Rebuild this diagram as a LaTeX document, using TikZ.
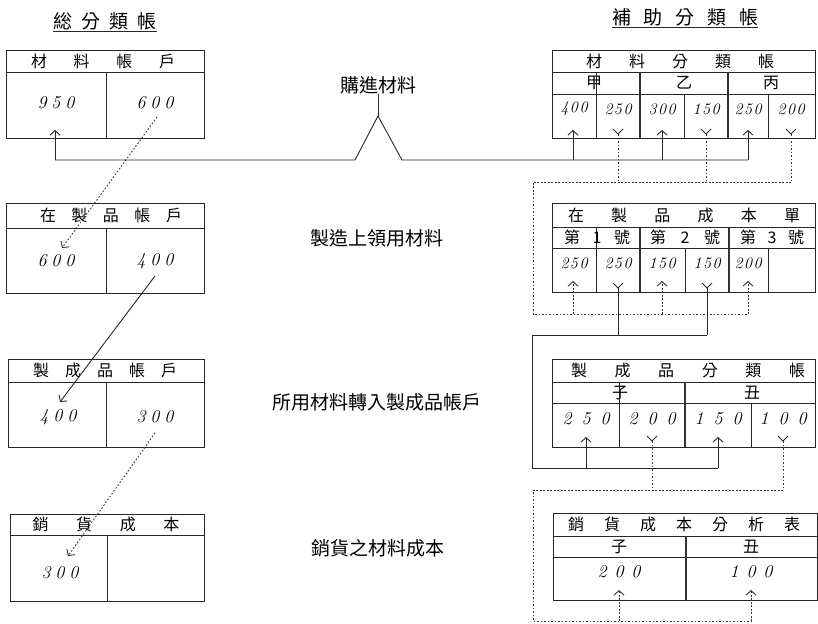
\documentclass[tikz,border=0pt]{standalone}
\usepackage{fontspec}
\newfontfamily\cjk{Noto Sans CJK TC}
\usetikzlibrary{arrows.meta}
\newcommand\threed[4]{#2\kern#1#3\kern#1#4}
\newcommand\spreadtxt[2]{\makebox[#1][s]{#2}}
\tikzset{
  ln/.style={line width=0.9pt, draw=black!85},
  thk/.style={line width=1.9pt, draw=black!80},
  dotl/.style={line width=0.9pt, draw=black!80, dash pattern=on 1.6pt off 1.9pt},
  upar/.style={-{Straight Barb[length=4.5pt,width=10pt,line width=0.9pt]}},
  ttl/.style={font=\cjk\fontsize{19}{19}\selectfont, inner sep=0pt, text=black},
  hdr/.style={font=\cjk\fontsize{16}{16}\selectfont, inner sep=0pt, text=black},
  lbl/.style={font=\cjk\fontsize{19}{19}\selectfont, inner sep=0pt, text=black},
  val/.style={font=\itshape\fontsize{18}{18}\selectfont, inner sep=0pt, text=black},
  sval/.style={font=\itshape\fontsize{16}{16}\selectfont, inner sep=0pt, text=black},
}
\begin{document}
\begin{tikzpicture}[x=1pt,y=-1pt]
\useasboundingbox (0,0) rectangle (818,623);

% ---------- titles ----------
\node[ttl] (t1) at (105,21) {\spreadtxt{104pt}{総\hfill 分\hfill 類\hfill 帳}};
\draw[ln] (53,31) -- (157,31);
\node[ttl] (t2) at (685,17) {\spreadtxt{146pt}{補\hfill 助\hfill 分\hfill 類\hfill 帳}};
\draw[ln] (612,27) -- (758,27);

% ---------- left column boxes ----------
\draw[ln] (6,50) rectangle (204,138); \draw[ln] (6,72) -- (204,72); \draw[ln] (106,72) -- (106,138);
\node[hdr] (l1h) at (103,61) {\spreadtxt{144pt}{材\hfill 料\hfill 帳\hfill 戶}};
\node[val] (l1a) at (56,103) {\threed{5pt}{9}{5}{0}};
\node[val] (l1b) at (155,103) {\threed{5pt}{6}{0}{0}};

\draw[ln] (6,203) rectangle (204,293); \draw[ln] (6,228) -- (204,228); \draw[ln] (106,228) -- (106,293);
\node[hdr] (l2h) at (111,215.5) {\spreadtxt{142pt}{在\hfill 製\hfill 品\hfill 帳\hfill 戶}};
\node[val] (l2a) at (56,261) {\threed{5pt}{6}{0}{0}};
\node[val] (l2b) at (155,261) {\threed{5pt}{4}{0}{0}};

\draw[ln] (8,359) rectangle (204,447); \draw[ln] (8,382) -- (204,382); \draw[ln] (106,382) -- (106,447);
\node[hdr] (l3h) at (105,370.5) {\spreadtxt{144pt}{製\hfill 成\hfill 品\hfill 帳\hfill 戶}};
\node[val] (l3a) at (58,417) {\threed{5pt}{4}{0}{0}};
\node[val] (l3b) at (155,417) {\threed{5pt}{3}{0}{0}};

\draw[ln] (10,514) rectangle (204,601); \draw[ln] (10,535) -- (204,535); \draw[ln] (107,535) -- (107,601);
\node[hdr] (l4h) at (106,524.5) {\spreadtxt{147pt}{銷\hfill 貨\hfill 成\hfill 本}};
\node[val] (l4a) at (60,573) {\threed{5pt}{3}{0}{0}};

% ---------- right column boxes ----------
% R1
\draw[ln] (552,50) rectangle (815,138);
\draw[ln] (552,72) -- (815,72); \draw[ln] (552,94) -- (815,94);
\draw[thk] (640,72) -- (640,138); \draw[thk] (728,72) -- (728,138);
\draw[ln] (596,72) -- (596,138); \draw[ln] (684,94) -- (684,138); \draw[ln] (768,94) -- (768,138);
\node[hdr] (r1h) at (680,61) {\spreadtxt{188pt}{材\hfill 料\hfill 分\hfill 類\hfill 帳}};
\node[hdr] (r1c1) at (594,83) {甲};
\node[hdr] (r1c2) at (684,83) {乙};
\node[hdr] (r1c3) at (771,83) {丙};
\node[sval] (r1v1) at (574,109) {\threed{1.5pt}{4}{0}{0}};
\node[sval] (r1v2) at (618,109) {\threed{1.5pt}{2}{5}{0}};
\node[sval] (r1v3) at (662,109) {\threed{1.5pt}{3}{0}{0}};
\node[sval] (r1v4) at (706,109) {\threed{1.5pt}{1}{5}{0}};
\node[sval] (r1v5) at (748,109) {\threed{1.5pt}{2}{5}{0}};
\node[sval] (r1v6) at (791,109) {\threed{1.5pt}{2}{0}{0}};

% R2
\draw[ln] (552,203) rectangle (815,292);
\draw[ln] (552,227) -- (815,227); \draw[ln] (552,248) -- (815,248);
\draw[thk] (640,227) -- (640,292); \draw[thk] (729,227) -- (729,292);
\draw[ln] (596,227) -- (596,292); \draw[ln] (685,248) -- (685,292); \draw[ln] (768,248) -- (768,292);
\node[hdr] (r2h) at (684,215) {\spreadtxt{232pt}{在\hfill 製\hfill 品\hfill 成\hfill 本\hfill 單}};
\node[hdr] (r2c1) at (597,237.5) {\spreadtxt{66pt}{第\hfill\textit{1}\hfill 號}};
\node[hdr] (r2c2) at (685,237.5) {\spreadtxt{70pt}{第\hfill\textit{2}\hfill 號}};
\node[hdr] (r2c3) at (772,237.5) {\spreadtxt{64pt}{第\hfill\textit{3}\hfill 號}};
\node[sval] (r2v1) at (574,263) {\threed{1.5pt}{2}{5}{0}};
\node[sval] (r2v2) at (618,263) {\threed{1.5pt}{2}{5}{0}};
\node[sval] (r2v3) at (662,263) {\threed{1.5pt}{1}{5}{0}};
\node[sval] (r2v4) at (707,263) {\threed{1.5pt}{1}{5}{0}};
\node[sval] (r2v5) at (748,263) {\threed{1.5pt}{2}{0}{0}};

% R3
\draw[ln] (552,359) rectangle (815,447);
\draw[ln] (552,382) -- (815,382); \draw[ln] (552,403) -- (815,403);
\draw[thk] (685,382) -- (685,447);
\draw[ln] (619,382) -- (619,447); \draw[ln] (751,403) -- (751,447);
\node[hdr] (r3h) at (688,370.5) {\spreadtxt{234pt}{製\hfill 成\hfill 品\hfill 分\hfill 類\hfill 帳}};
\node[hdr] (r3c1) at (620,392.5) {子};
\node[hdr] (r3c2) at (752,392.5) {丑};
\node[val] (r3v1) at (586,419) {\threed{10pt}{2}{5}{0}};
\node[val] (r3v2) at (652,419) {\threed{10pt}{2}{0}{0}};
\node[val] (r3v3) at (718,419) {\threed{10pt}{1}{5}{0}};
\node[val] (r3v4) at (783,419) {\threed{10pt}{1}{0}{0}};

% R4
\draw[ln] (553,513) rectangle (817,600);
\draw[ln] (553,536) -- (817,536); \draw[ln] (553,557) -- (817,557);
\draw[thk] (686,536) -- (686,600);
\node[hdr] (r4h) at (684,524.5) {\spreadtxt{232pt}{銷\hfill 貨\hfill 成\hfill 本\hfill 分\hfill 析\hfill 表}};
\node[hdr] (r4c1) at (619,546.5) {子};
\node[hdr] (r4c2) at (751,546.5) {丑};
\node[val] (r4v1) at (619,572) {\threed{8pt}{2}{0}{0}};
\node[val] (r4v2) at (751,572) {\threed{8pt}{1}{0}{0}};

% ---------- middle labels ----------
\node[lbl] (buy) at (378,85) {購進材料};
\node[lbl] (iss) at (377,238) {製造上領用材料};
\node[lbl] (trf) at (377,402) {所用材料轉入製成品帳戶};
\node[lbl] (cgs) at (378,548) {銷貨之材料成本};

% ---------- flow 1: purchases (solid) ----------
\coordinate (f1a) at (55,160);
\coordinate (f1b) at (355,160);
\coordinate (f1pk) at (378,116);
\coordinate (f1c) at (402,160);
\coordinate (f1d) at (748,160);
\coordinate (f1m1) at (573,160);
\coordinate (f1m2) at (662,160);
\draw[ln] (f1a) -- (f1b) -- (f1pk) -- (f1c) -- (f1d);
\draw[ln] (f1pk) -- (buy.south);
\coordinate (u0) at (55,130);
\coordinate (u1) at (573,130);
\coordinate (u2) at (662,130);
\coordinate (u3) at (748,130);
\draw[ln,upar] (f1a) -- (u0);
\draw[ln,upar] (f1m1) -- (u1);
\draw[ln,upar] (f1m2) -- (u2);
\draw[ln,upar] (f1d) -- (u3);

% ---------- flow 2: issues (dotted) ----------
\foreach \x/\n in {618/a,706/b,791/c}{
  \draw[ln] (\x-5,129) -- (\x,134) -- (\x+5,129);
  \coordinate (y2\n) at (\x,134);
  \coordinate (h2\n) at (\x,182);
  \draw[dotl] (y2\n) -- (h2\n);
}
\coordinate (c2a) at (533,182);
\coordinate (c2b) at (533,314);
\coordinate (c2e) at (748,314);
\coordinate (c2m1) at (573,314);
\coordinate (c2m2) at (662,314);
\draw[dotl] (h2c) -- (c2a) -- (c2b) -- (c2e);
\coordinate (u4) at (573,281);
\coordinate (u5) at (662,281);
\coordinate (u6) at (748,281);
\draw[dotl,upar] (c2m1) -- (u4);
\draw[dotl,upar] (c2m2) -- (u5);
\draw[dotl,upar] (c2e) -- (u6);

% ---------- flow 3: transfer (solid) ----------
\foreach \x/\n in {618/a,707/b}{
  \draw[ln] (\x-5,283) -- (\x,288) -- (\x+5,283);
  \coordinate (y3\n) at (\x,288);
  \coordinate (h3\n) at (\x,335);
  \draw[ln] (y3\n) -- (h3\n);
}
\coordinate (c3a) at (532,335);
\coordinate (c3b) at (532,468);
\coordinate (c3e) at (718,468);
\coordinate (c3m) at (586,468);
\draw[ln] (h3b) -- (c3a) -- (c3b) -- (c3e);
\coordinate (u7) at (586,437);
\coordinate (u8) at (718,437);
\draw[ln,upar] (c3m) -- (u7);
\draw[ln,upar] (c3e) -- (u8);

% ---------- flow 4: cost of sales (dotted) ----------
\foreach \x/\n in {652/a,783/b}{
  \draw[ln] (\x-5,436) -- (\x,441) -- (\x+5,436);
  \coordinate (y4\n) at (\x,441);
  \coordinate (h4\n) at (\x,490);
  \draw[dotl] (y4\n) -- (h4\n);
}
\coordinate (c4a) at (533,490);
\coordinate (c4b) at (533,621);
\coordinate (c4e) at (751,621);
\coordinate (c4m) at (619,621);
\draw[dotl] (h4b) -- (c4a) -- (c4b) -- (c4e);
\coordinate (u9) at (619,590);
\coordinate (u10) at (751,590);
\draw[dotl,upar] (c4m) -- (u9);
\draw[dotl,upar] (c4e) -- (u10);

% ---------- left diagonal transfers ----------
\coordinate (d1s) at (157,117); \coordinate (d1e) at (62,248);
\coordinate (d2s) at (155,276); \coordinate (d2e) at (60,402);
\coordinate (d3s) at (155,433); \coordinate (d3e) at (68,556);
\draw[dotl,upar] (d1s) -- (d1e);
\draw[ln,upar] (d2s) -- (d2e);
\draw[dotl,upar] (d3s) -- (d3e);
\end{tikzpicture}
\end{document}
